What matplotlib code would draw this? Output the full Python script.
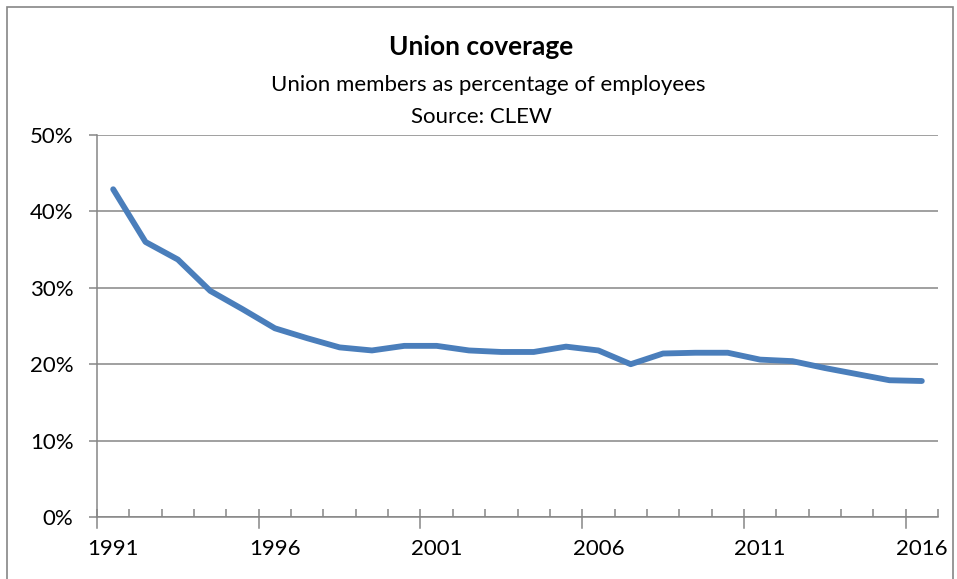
import matplotlib.pyplot as plt
from matplotlib.patches import Rectangle
from matplotlib.ticker import FixedLocator, FuncFormatter

years = list(range(1991, 2017))
coverage = [42.9, 36.0, 33.7, 29.6, 27.2, 24.7, 23.4, 22.2, 21.8, 22.4,
            22.4, 21.8, 21.6, 21.6, 22.3, 21.8, 20.0, 21.4, 21.5, 21.5,
            20.6, 20.4, 19.5, 18.7, 17.9, 17.8]
label_years = [1991, 1996, 2001, 2006, 2011, 2016]
y_ticks = [0, 10, 20, 30, 40, 50]

plt.rcParams['font.family'] = ['Lato', 'DejaVu Sans']
grey = '#868686'

fig = plt.figure(figsize=(9.57, 5.79), dpi=100)
ax = fig.add_axes([97/957, 1 - 517/579, 841/957, 382/579])

x = list(range(len(years)))
ax.plot(x, coverage, color='#4A7EBB', linewidth=4.2, solid_capstyle='round', solid_joinstyle='round')

ax.set_xlim(-0.5, len(years) - 0.5)
ax.set_ylim(0, 50)
ax.set_yticks(y_ticks)
ax.yaxis.set_major_formatter(FuncFormatter(lambda v, p: f'{v:.0f}%'))
ax.grid(axis='y', color=grey, linewidth=1.1)
ax.set_axisbelow(True)

# labels on category centres, tick marks on category edges
ax.set_xticks([years.index(y) for y in label_years])
ax.set_xticklabels([str(y) for y in label_years])
ax.tick_params(axis='x', length=0, pad=16)
edges = [i - 0.5 for i in range(len(years) + 1)]
ax.xaxis.set_minor_locator(FixedLocator(edges))
ax.tick_params(axis='x', which='minor', length=6, width=1.1, color=grey, direction='in')
for e in edges[::5]:
    ax.plot([e, e], [0, -1.4], color=grey, linewidth=1.1, clip_on=False)

ax.tick_params(axis='y', length=6, width=1.1, color=grey, direction='out', pad=11)
ax.tick_params(labelsize=16)
for side in ['top', 'right']:
    ax.spines[side].set_visible(False)
for side in ['left', 'bottom']:
    ax.spines[side].set_color(grey)
    ax.spines[side].set_linewidth(1.1)

fig.text(481/957, 1 - 47/579, 'Union coverage', ha='center', va='center', fontsize=19, fontweight='bold')
fig.text(488/957, 1 - 85/579, 'Union members as percentage of employees', ha='center', va='center', fontsize=16)
fig.text(481/957, 1 - 117/579, 'Source: CLEW', ha='center', va='center', fontsize=16)

fig.patches.append(Rectangle((7/957, -0.1), 946/957, 1.1 - 7/579, transform=fig.transFigure,
                             fill=False, edgecolor=grey, linewidth=1.2))

fig.savefig('out.png', dpi=100)
